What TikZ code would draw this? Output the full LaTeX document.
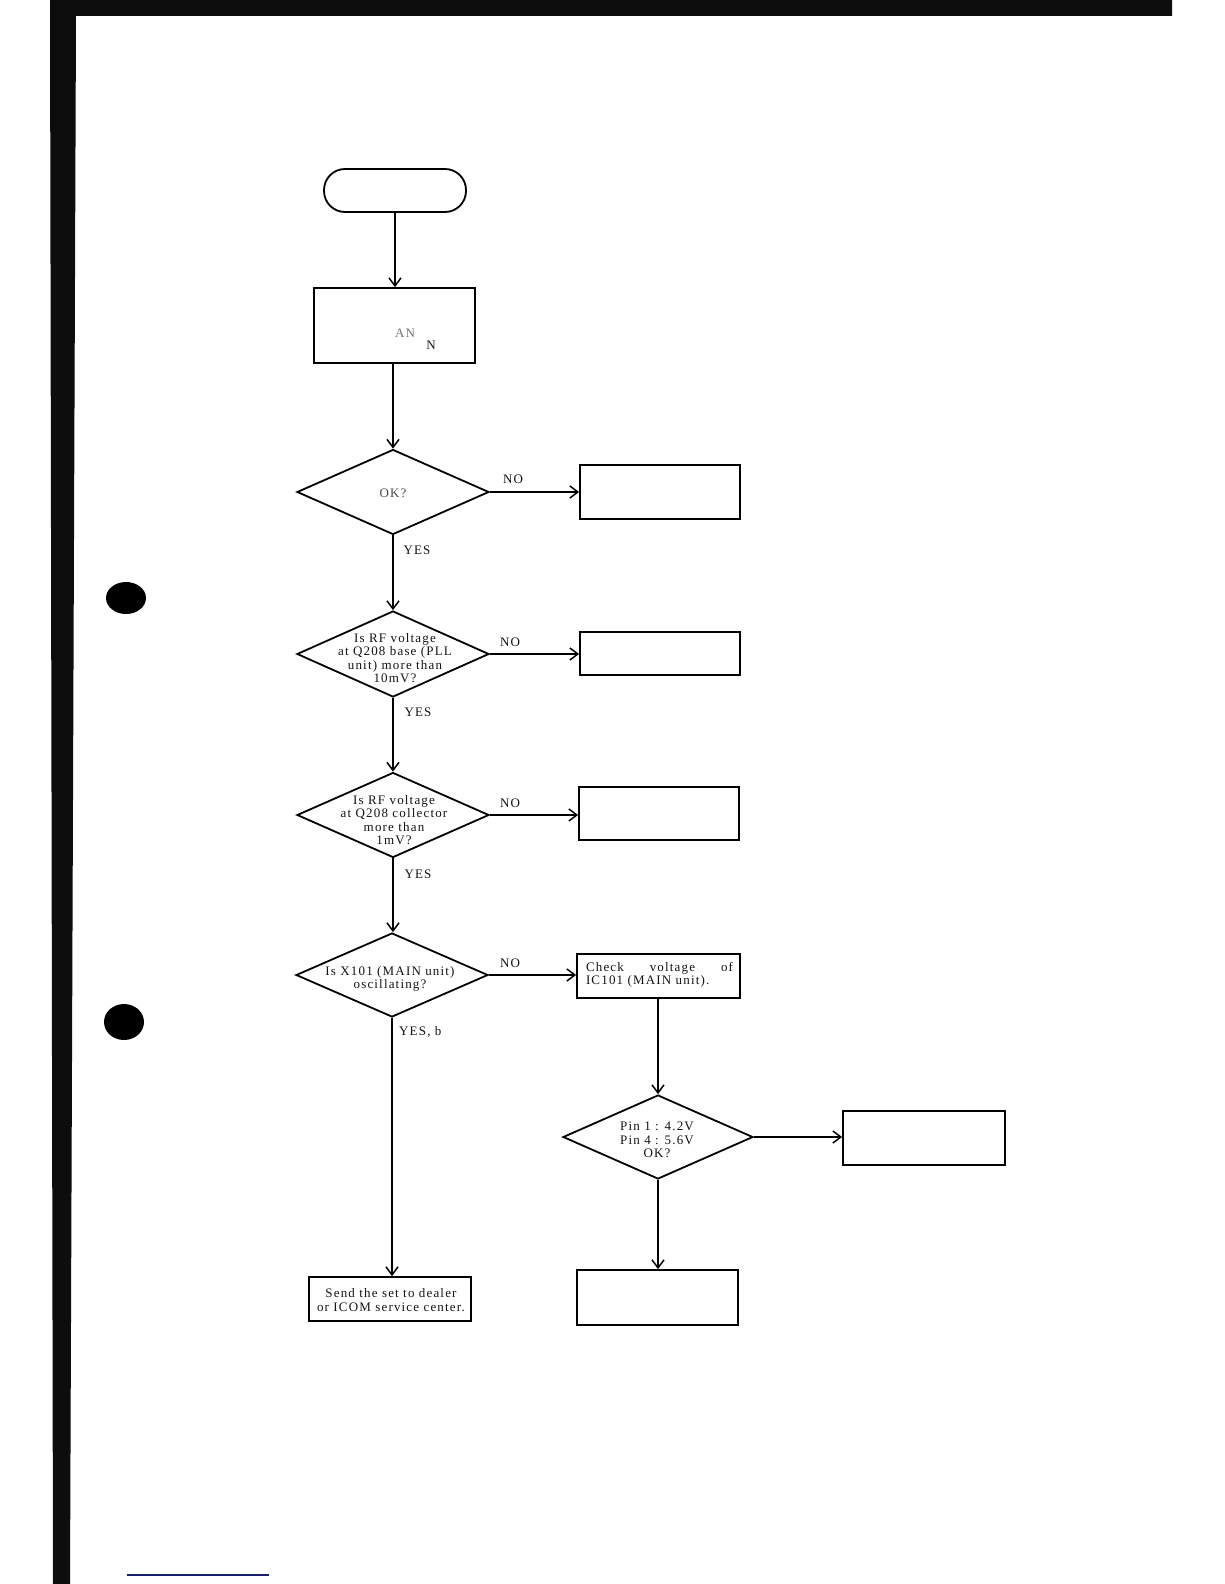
\documentclass[tikz,border=0pt]{standalone}
\usepackage{fontspec}
\setmainfont{Liberation Serif}[LetterSpace=9]
\usetikzlibrary{shapes.geometric,arrows.meta}
\definecolor{navyln}{RGB}{25,30,110}
\tikzset{
  boxs/.style={draw, line width=1.8pt, rectangle, inner sep=0pt},
  dia/.style={draw, line width=1.8pt, diamond, inner sep=0pt, minimum width=192pt, minimum height=85pt},
  txt/.style={font=\fontsize{13}{13.3}\selectfont, align=center, inner sep=0pt, text=black!92},
  lbl/.style={font=\fontsize{13}{13.3}\selectfont, inner sep=0pt, text=black!92},
  arr/.style={line width=1.5pt, -{Straight Barb[length=8pt,width=12pt,line width=1.5pt]}},
  dot/.style={fill=black}
}
\begin{document}
\begin{tikzpicture}[x=1pt,y=-1pt]
\useasboundingbox (0,0) rectangle (1224,1584);
\fill[white] (0,0) rectangle (1224,1584);
% frame
\fill[black!95] (50,0) -- (1172,0) -- (1172,16) -- (76,16) -- (70,1584) -- (53,1584) -- cycle;
% punch holes
\fill[dot] (126,598) ellipse [x radius=20pt, y radius=16pt];
\fill[dot] (124,1022) ellipse [x radius=20pt, y radius=18pt];
% blue line at bottom
\draw[navyln, line width=2pt] (127,1575) -- (269,1575);

% nodes
\node[boxs, rounded corners=21pt, minimum width=142pt, minimum height=43pt] (term) at (395,190.5) {};
\node[boxs, minimum width=161pt, minimum height=75pt] (box0) at (394.5,325.5) {};
\node[lbl, text=black!55] (box0a) at (405,333) {AN};
\node[lbl] (box0b) at (431,345) {N};

\node[dia] (d1) at (393,492) {};
\node[txt, text=black!70] (d1t) at (393,493) {OK?};
\node[boxs, minimum width=160pt, minimum height=54pt] (b1) at (660,492) {};

\node[dia, minimum height=86pt] (d2) at (393,654) {};
\node[txt] (d2t) at (395,658) {Is RF voltage\\at Q208 base (PLL\\unit) more than\\10mV?};
\node[boxs, minimum width=160pt, minimum height=43pt] (b2) at (660,653.5) {};

\node[dia] (d3) at (393,815) {};
\node[txt] (d3t) at (394,820) {Is RF voltage\\at Q208 collector\\more than\\1mV?};
\node[boxs, minimum width=160pt, minimum height=53pt] (b3) at (659,813.5) {};

\node[dia, minimum height=84pt] (d4) at (392,975) {};
\node[txt] (d4t) at (390,979) {Is X101 (MAIN unit)\\oscillating?};
\node[boxs, minimum width=163pt, minimum height=44pt] (b4) at (658.5,976) {};
\node[txt, align=left] (b4t) at (659.5,975) {\makebox[147pt][s]{Check voltage of}\\IC101 (MAIN unit).};

\node[dia, minimum width=190pt, minimum height=84pt] (d5) at (658,1137) {};
\node[txt] (d5t) at (657,1140) {Pin 1 : 4.2V\\Pin 4 : 5.6V\\OK?};
\node[boxs, minimum width=162pt, minimum height=54pt] (b5) at (924,1138) {};

\node[boxs, minimum width=162pt, minimum height=44pt] (send) at (390,1299) {};
\node[txt] (sendt) at (391,1300) {Send the set to dealer\\or ICOM service center.};
\node[boxs, minimum width=161pt, minimum height=55pt] (b6) at (657.5,1297.5) {};

% connectors
\draw[arr] (term.south) -- (term.south |- box0.north);
\draw[arr] (box0.south -| d1.north) -- (d1.north);
\draw[arr] (d1.east) -- (d1.east -| b1.west);
\draw[arr] (d1.south) -- (d2.north);
\draw[arr] (d2.east) -- (d2.east -| b2.west);
\draw[arr] (d2.south) -- (d3.north);
\draw[arr] (d3.east) -- (d3.east -| b3.west);
\draw[arr] (d3.south) -- (d3.south |- d4.north);
\draw[arr] (d4.east) -- (d4.east -| b4.west);
\draw[arr] (d4.south) -- (d4.south |- send.north);
\draw[arr] (b4.south -| d5.north) -- (d5.north);
\draw[arr] (d5.east) -- (d5.east -| b5.west);
\draw[arr] (d5.south) -- (d5.south |- b6.north);

% branch labels
\node[lbl] (no1) at (513,479) {NO};
\node[lbl] (no2) at (510,642) {NO};
\node[lbl] (no3) at (510,803) {NO};
\node[lbl] (no4) at (510,963) {NO};
\node[lbl] (yes1) at (417,550) {YES};
\node[lbl] (yes2) at (418,712) {YES};
\node[lbl] (yes3) at (418,874) {YES};
\node[lbl, anchor=west] (yes4) at (399,1032) {YES, b};
\end{tikzpicture}
\end{document}
